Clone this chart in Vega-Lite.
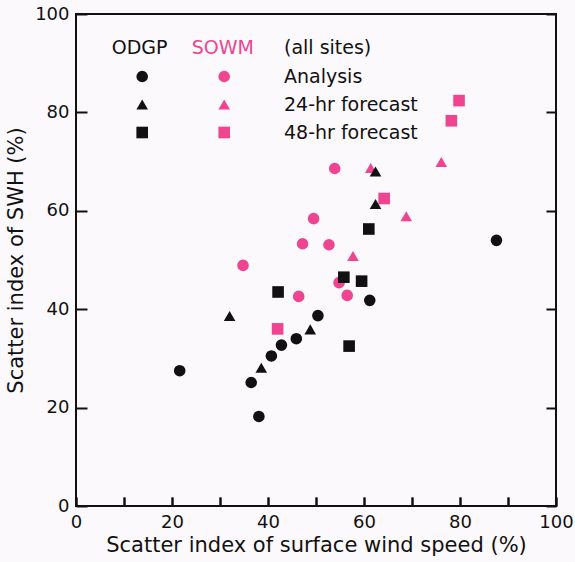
{
  "$schema": "https://vega.github.io/schema/vega-lite/v6.json",
  "autosize": {"type": "none"},
  "padding": {"left": 76, "top": 14, "right": 19, "bottom": 56},
  "width": 480,
  "height": 492,
  "background": "#fcf9fc",
  "config": {
    "view": {"stroke": "#111", "strokeWidth": 2},
    "font": "DejaVu Sans",
    "axis": {"domain": false, "ticks": true, "zindex": 0, "tickColor": "#111", "tickWidth": 2, "labelColor": "#111", "titleColor": "#111", "labelFont": "DejaVu Sans", "titleFont": "DejaVu Sans", "labelFontSize": 18, "titleFontSize": 21, "titleFontWeight": "normal", "labelFlush": false, "labelOverlap": false},
    "legend": {"padding": 0, "titleFont": "DejaVu Sans", "labelFont": "DejaVu Sans", "titleFontSize": 19, "labelFontSize": 19, "titleFontWeight": "normal", "titleColor": "#111", "labelColor": "#111", "rowPadding": 8, "titlePadding": 9, "symbolSize": 135, "symbolStrokeWidth": 0}
  },
  "data": {
    "values": [
      {"model": "ODGP", "forecast": "Analysis", "x": 21.6, "y": 27.5},
      {"model": "ODGP", "forecast": "Analysis", "x": 36.5, "y": 25.1},
      {"model": "ODGP", "forecast": "Analysis", "x": 38.1, "y": 18.2},
      {"model": "ODGP", "forecast": "Analysis", "x": 40.7, "y": 30.5},
      {"model": "ODGP", "forecast": "Analysis", "x": 42.8, "y": 32.7},
      {"model": "ODGP", "forecast": "Analysis", "x": 45.9, "y": 34.0},
      {"model": "ODGP", "forecast": "Analysis", "x": 50.4, "y": 38.7},
      {"model": "ODGP", "forecast": "Analysis", "x": 61.2, "y": 41.8},
      {"model": "ODGP", "forecast": "Analysis", "x": 87.6, "y": 54.0},
      {"model": "ODGP", "forecast": "24-hr forecast", "x": 32.0, "y": 38.6},
      {"model": "ODGP", "forecast": "24-hr forecast", "x": 38.6, "y": 28.1},
      {"model": "ODGP", "forecast": "24-hr forecast", "x": 48.8, "y": 35.9},
      {"model": "ODGP", "forecast": "24-hr forecast", "x": 62.4, "y": 61.4},
      {"model": "ODGP", "forecast": "24-hr forecast", "x": 62.4, "y": 68.0},
      {"model": "ODGP", "forecast": "48-hr forecast", "x": 42.1, "y": 43.5},
      {"model": "ODGP", "forecast": "48-hr forecast", "x": 55.8, "y": 46.5},
      {"model": "ODGP", "forecast": "48-hr forecast", "x": 59.5, "y": 45.7},
      {"model": "ODGP", "forecast": "48-hr forecast", "x": 61.0, "y": 56.3},
      {"model": "ODGP", "forecast": "48-hr forecast", "x": 56.9, "y": 32.5},
      {"model": "SOWM", "forecast": "Analysis", "x": 34.8, "y": 48.9},
      {"model": "SOWM", "forecast": "Analysis", "x": 46.4, "y": 42.6},
      {"model": "SOWM", "forecast": "Analysis", "x": 47.2, "y": 53.3},
      {"model": "SOWM", "forecast": "Analysis", "x": 49.5, "y": 58.4},
      {"model": "SOWM", "forecast": "Analysis", "x": 52.7, "y": 53.1},
      {"model": "SOWM", "forecast": "Analysis", "x": 53.9, "y": 68.6},
      {"model": "SOWM", "forecast": "Analysis", "x": 54.8, "y": 45.4},
      {"model": "SOWM", "forecast": "Analysis", "x": 56.5, "y": 42.8},
      {"model": "SOWM", "forecast": "24-hr forecast", "x": 57.7, "y": 50.8},
      {"model": "SOWM", "forecast": "24-hr forecast", "x": 61.4, "y": 68.7},
      {"model": "SOWM", "forecast": "24-hr forecast", "x": 68.8, "y": 58.9},
      {"model": "SOWM", "forecast": "24-hr forecast", "x": 76.1, "y": 69.9},
      {"model": "SOWM", "forecast": "48-hr forecast", "x": 42.0, "y": 36.0},
      {"model": "SOWM", "forecast": "48-hr forecast", "x": 64.2, "y": 62.5},
      {"model": "SOWM", "forecast": "48-hr forecast", "x": 78.2, "y": 78.3},
      {"model": "SOWM", "forecast": "48-hr forecast", "x": 79.8, "y": 82.4}
    ]
  },
  "resolve": {"legend": {"shape": "independent"}},
  "layer": [
    {
      "data": {"values": [{}]},
      "mark": {"type": "rect", "fill": null, "filled": false, "stroke": "#111", "strokeWidth": 2},
      "encoding": {"x": {"datum": 0, "type": "quantitative"}, "x2": {"datum": 100}, "y": {"datum": 0, "type": "quantitative"}, "y2": {"datum": 100}}
    },
    {
      "transform": [{"filter": "datum.model === 'SOWM'"}],
      "mark": {"type": "point", "filled": true, "size": 135, "color": "#ef4590", "opacity": 1},
      "encoding": {
        "x": {"field": "x", "type": "quantitative", "scale": {"domain": [0, 100], "nice": false, "zero": false},
              "axis": {"orient": "bottom", "offset": -9, "values": [0, 10, 20, 30, 40, 50, 60, 70, 80, 90, 100], "labelExpr": "datum.value % 20 === 0 ? datum.label : ''", "tickSize": 9, "labelPadding": 7,
                       "grid": true, "gridColor": "#111", "gridWidth": 2, "gridOpacity": 1, "gridDash": [0, 483, 9, 1000],
                       "title": "Scatter index of surface wind speed (%)", "titlePadding": 3}},
        "y": {"field": "y", "type": "quantitative", "scale": {"domain": [0, 100], "nice": false, "zero": false},
              "axis": {"orient": "left", "offset": -11, "values": [0, 20, 40, 60, 80, 100], "tickSize": 11, "labelPadding": 7,
                       "grid": true, "gridColor": "#111", "gridWidth": 2, "gridOpacity": 1, "gridDash": [0, 470, 10, 1000],
                       "title": "Scatter index of SWH (%)", "titlePadding": 8}},
        "shape": {"field": "forecast", "type": "nominal",
                  "scale": {"domain": ["Analysis", "24-hr forecast", "48-hr forecast"], "range": ["circle", "triangle-up", "square"]},
                  "legend": {"orient": "none", "legendX": 115.7, "legendY": 25, "title": "SOWM", "titleColor": "#ef4590", "labelExpr": "''", "symbolOffset": 23, "labelOffset": 0}}
      }
    },
    {
      "transform": [{"filter": "datum.model === 'ODGP'"}],
      "mark": {"type": "point", "filled": true, "size": 135, "color": "#111", "opacity": 1},
      "encoding": {
        "x": {"field": "x", "type": "quantitative"},
        "y": {"field": "y", "type": "quantitative"},
        "shape": {"field": "forecast", "type": "nominal",
                  "legend": {"orient": "none", "legendX": 35.7, "legendY": 25, "title": "ODGP", "labelExpr": "''", "symbolOffset": 21, "labelOffset": 0}}
      }
    },
    {
      "mark": {"type": "point", "filled": true, "size": 135, "color": "#111", "opacity": 0},
      "encoding": {
        "x": {"field": "x", "type": "quantitative"},
        "y": {"field": "y", "type": "quantitative"},
        "shape": {"field": "forecast", "type": "nominal",
                  "legend": {"orient": "none", "legendX": 208, "legendY": 25, "title": "(all sites)", "symbolSize": 0, "symbolOffset": 0, "labelOffset": -19}}
      }
    }
  ]
}
